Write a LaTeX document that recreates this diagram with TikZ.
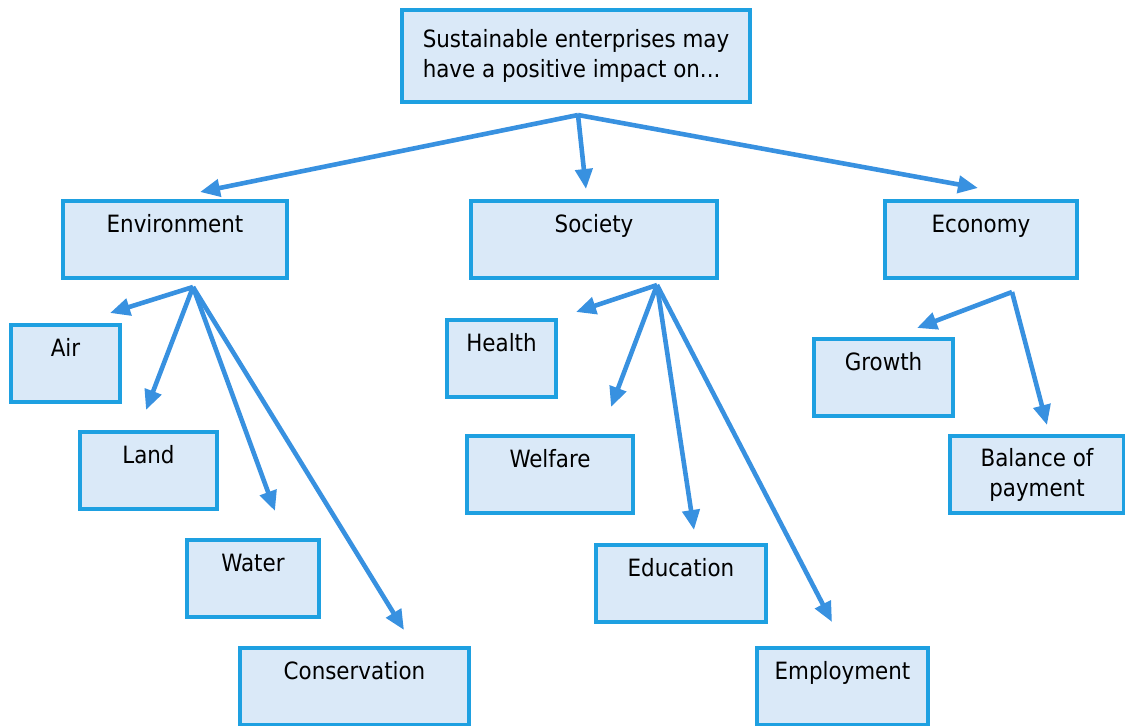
\documentclass[tikz,border=0pt]{standalone}
\usepackage{fontspec}
\setmainfont{DejaVu Sans Condensed}
\usetikzlibrary{arrows.meta}

\definecolor{boxfill}{RGB}{218,233,248}
\definecolor{boxline}{RGB}{30,160,225}
\definecolor{arrline}{RGB}{56,145,224}

\tikzset{
  box/.style={draw=boxline, fill=boxfill, line width=1.6pt, inner sep=0pt,
    font=\fontsize{11.9}{15}\selectfont, align=center},
  topbox/.style={box, text height=15.5pt, text depth=23pt},
  arr/.style={draw=arrline, line width=2.3pt, -{Triangle[length=10pt,width=8.5pt]}}
}

\begin{document}
\begin{tikzpicture}[x=0.5pt,y=-0.5pt]
\useasboundingbox (0,0) rectangle (1125,725);
% main question
\node[box, align=left, minimum width=174pt, minimum height=46pt] (q) at (576,56)
  {Sustainable enterprises may\\have a positive impact on...};
% three areas
\node[topbox, minimum width=112pt] (env) at (175,239.5) {Environment};
\node[topbox, minimum width=123pt] (soc) at (594,239.5) {Society};
\node[topbox, minimum width=96pt] (eco) at (981,239.5) {Economy};
% environment
\node[topbox, minimum width=54.5pt] (air) at (65.5,363.5) {Air};
\node[topbox, minimum width=68.5pt] (land) at (148.5,470.5) {Land};
\node[topbox, minimum width=66pt] (water) at (253,578.5) {Water};
\node[topbox, minimum width=114.5pt] (cons) at (354.5,686.5) {Conservation};
% society
\node[topbox, minimum width=54.5pt] (health) at (501.5,358.5) {Health};
\node[topbox, minimum width=83pt] (welfare) at (550,474.5) {Welfare};
\node[topbox, minimum width=85pt] (edu) at (681,583.5) {Education};
\node[topbox, minimum width=85.5pt] (emp) at (842.5,686.5) {Employment};
% economy
\node[topbox, minimum width=69.5pt] (growth) at (883.5,377.5) {Growth};
\node[box, minimum width=87pt, minimum height=38.5pt] (bop) at (1037,474.5) {Balance of\\payment};

% hubs and arrow tips
\coordinate (hq) at (578,115);
\coordinate (he) at (193,287);
\coordinate (hs) at (657,285);
\coordinate (hc) at (1012,292);
\coordinate (tenv) at (200,192);
\coordinate (tsoc) at (586,189);
\coordinate (teco) at (978,188);
\coordinate (tair) at (110,313);
\coordinate (tland) at (146,410);
\coordinate (twater) at (275,511);
\coordinate (tcons) at (404,630);
\coordinate (thealth) at (576,312);
\coordinate (twelfare) at (611,407);
\coordinate (tedu) at (694,530);
\coordinate (temp) at (832,622);
\coordinate (tgrowth) at (917,328);
\coordinate (tbop) at (1047,425);

\draw[arr] (hq) -- (tenv);
\draw[arr] (hq) -- (tsoc);
\draw[arr] (hq) -- (teco);
\draw[arr] (he) -- (tair);
\draw[arr] (he) -- (tland);
\draw[arr] (he) -- (twater);
\draw[arr] (he) -- (tcons);
\draw[arr] (hs) -- (thealth);
\draw[arr] (hs) -- (twelfare);
\draw[arr] (hs) -- (tedu);
\draw[arr] (hs) -- (temp);
\draw[arr] (hc) -- (tgrowth);
\draw[arr] (hc) -- (tbop);
\end{tikzpicture}
\end{document}
